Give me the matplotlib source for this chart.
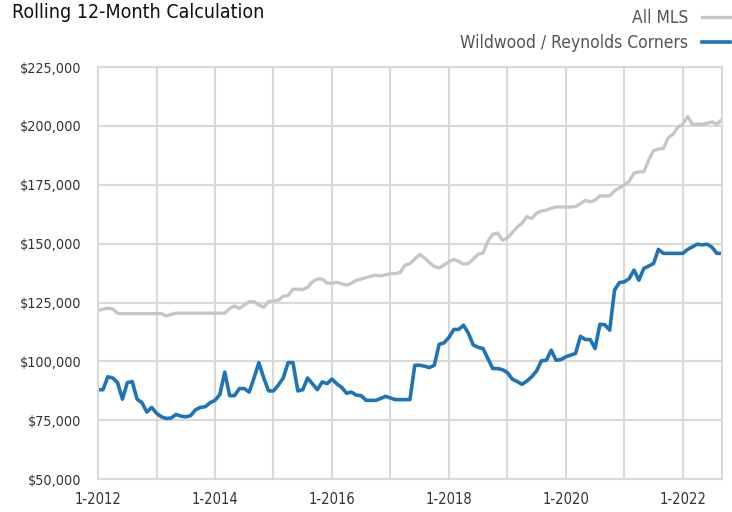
import numpy as np
import matplotlib.pyplot as plt
from matplotlib.lines import Line2D

# monthly values, Jan 2012 .. Sep 2022
all_mls = [121.7, 122.2, 122.6, 122.3, 120.5, 120.3, 120.3, 120.3, 120.3, 120.3,
           120.3, 120.3, 120.3, 120.3, 119.3, 120.0, 120.5, 120.5, 120.5, 120.5,
           120.5, 120.5, 120.5, 120.5, 120.5, 120.5, 120.5, 122.5, 123.6, 122.5,
           124.0, 125.4, 125.4, 124.0, 123.0, 125.5, 125.7, 126.0, 127.7, 128.0,
           130.7, 130.7, 130.5, 131.5, 133.8, 135.0, 135.0, 133.3, 133.2, 133.6,
           133.0, 132.4, 133.2, 134.5, 135.0, 135.6, 136.2, 136.6, 136.3, 136.8,
           137.3, 137.3, 137.8, 140.9, 141.5, 143.5, 145.5, 144.0, 142.0, 140.3,
           139.7, 141.0, 142.3, 143.3, 142.5, 141.3, 141.6, 143.5, 145.5, 146.0,
           151.0, 154.0, 154.5, 151.5, 152.5, 154.7, 157.0, 158.7, 161.5, 160.7,
           163.0, 163.9, 164.3, 165.0, 165.6, 165.6, 165.6, 165.6, 165.8, 167.0,
           168.4, 167.8, 168.5, 170.3, 170.3, 170.3, 172.5, 173.7, 175.0, 176.5,
           180.0, 180.5, 180.5, 185.5, 189.5, 190.2, 190.4, 195.0, 196.5, 199.5,
           200.7, 204.0, 200.7, 200.7, 200.7, 201.2, 201.7, 200.7, 202.7]
wildwood = [88.0, 88.0, 93.5, 93.0, 91.0, 84.0, 91.0, 91.5, 84.0, 82.5,
            78.5, 80.5, 78.0, 76.5, 75.8, 76.0, 77.5, 76.8, 76.5, 77.0,
            79.5, 80.5, 80.8, 82.5, 83.5, 86.0, 95.5, 85.5, 85.5, 88.5,
            88.5, 87.0, 93.0, 99.5, 93.0, 87.5, 87.5, 90.0, 93.0, 99.5,
            99.5, 87.5, 88.0, 93.0, 90.5, 88.0, 91.3, 90.6, 92.5, 90.5,
            89.0, 86.5, 87.0, 85.7, 85.5, 83.5, 83.5, 83.5, 84.3, 85.2,
            84.5, 83.8, 83.8, 83.8, 83.8, 98.4, 98.4, 98.0, 97.4, 98.4,
            107.3, 107.9, 110.2, 113.6, 113.6, 115.4, 112.0, 107.0, 106.0, 105.5,
            101.3, 97.0, 97.0, 96.5, 95.3, 92.5, 91.5, 90.3, 91.7, 93.5,
            96.0, 100.3, 100.5, 104.8, 100.5, 100.8, 102.0, 102.7, 103.4, 110.7,
            109.3, 109.3, 105.5, 115.8, 115.6, 113.3, 130.3, 133.5, 133.8, 135.2,
            138.8, 134.5, 139.5, 140.5, 141.6, 147.6, 145.9, 145.9, 145.9, 145.9,
            145.9, 147.6, 148.7, 149.8, 149.5, 149.8, 148.5, 145.9, 145.9]
years = [2012, 2013, 2014, 2015, 2016, 2017, 2018, 2019, 2020, 2021, 2022]

font = 'DejaVu Sans'
narrow = 'condensed'
grid_c = '#d9d9d9'
gray = '#c6c6c6'
blue = '#1f74b8'

months = np.arange(len(all_mls))
fig = plt.figure(figsize=(7.32, 5.12), dpi=100)
ax = fig.add_axes([0.134, 0.064, 0.852, 0.805])

ax.plot(months, np.array(all_mls) * 1000, color=gray, lw=2.4, solid_joinstyle='round')
ax.plot(months, np.array(wildwood) * 1000, color=blue, lw=2.6, solid_joinstyle='round')

ax.set_xlim(0, len(all_mls) - 1)
ax.set_ylim(50000, 225000)
ax.set_yticks(np.arange(50000, 225001, 25000))
ax.set_yticklabels([f'${v:,.0f}' for v in np.arange(50000, 225001, 25000)],
                   family=font, stretch=narrow, fontsize=10.3, color='#333333')
ax.set_xticks([12 * k for k in range(len(years))])
ax.set_xticklabels([f'1-{y}' if k % 2 == 0 else '' for k, y in enumerate(years)],
                   family=font, stretch=narrow, fontsize=10.5, color='#333333')
ax.tick_params(length=0, pad=12)
ax.tick_params(axis='x', pad=9)
ax.grid(True, color=grid_c, lw=1.5)
ax.set_axisbelow(True)
for s in ax.spines.values():
    s.set_color(grid_c)
    s.set_linewidth(1.5)

fig.text(0.016, 0.995, 'Rolling 12-Month Calculation', family=font, stretch=narrow,
         fontsize=14, ha='left', va='top', color='#111111')

handles = [Line2D([], [], color=gray, lw=2.4), Line2D([], [], color=blue, lw=2.6)]
ax.legend(handles, ['All MLS', 'Wildwood / Reynolds Corners'], markerfirst=False,
          frameon=False, loc='upper right', bbox_to_anchor=(1.014, 1.006),
          bbox_transform=fig.transFigure, handlelength=1.6, handletextpad=0.8,
          labelspacing=0.38, borderaxespad=0.3,
          prop={'family': font, 'stretch': narrow, 'size': 12.5}, labelcolor='#555555')

fig.savefig('out.png', dpi=100)
